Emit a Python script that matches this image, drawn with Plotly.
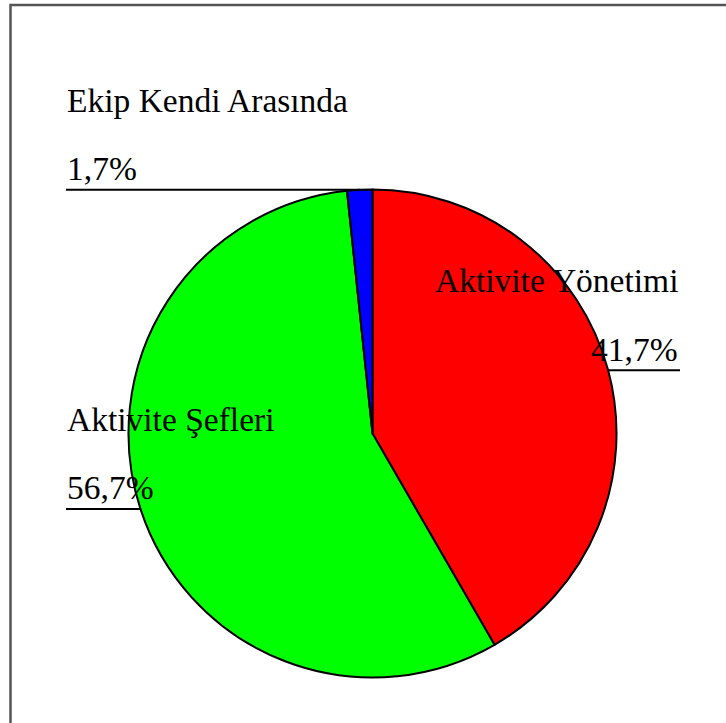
import math
import plotly.graph_objects as go

# Data
labels = ["Aktivite Yönetimi", "Aktivite Şefleri", "Ekip Kendi Arasında"]
counts = [25, 34, 1]
colors = ["#ff0000", "#00ff00", "#0000ff"]

W, H = 726, 723
FONT = "Liberation Serif, Times New Roman, serif"
FS = 33.5

# Pie geometry (pixels)
cx, cy, r = 372.5, 433.5, 244.0


def px(x):
    return x / W


def py(y):
    return 1 - y / H


total = sum(counts)
pcts = [c / total * 100 for c in counts]
pct_text = [f"{p:.1f}%".replace(".", ",") for p in pcts]

fig = go.Figure()
fig.add_trace(go.Pie(
    labels=labels,
    values=counts,
    sort=False,
    direction="clockwise",
    rotation=0,
    textinfo="none",
    hoverinfo="label+percent",
    marker=dict(colors=colors, line=dict(color="black", width=2)),
    domain=dict(x=[px(cx - r), px(cx + r)], y=[py(cy + r), py(cy - r)]),
    showlegend=False,
))

# label layout: side and x anchor position of the text block
label_side = ["right", "left", "left"]
left_x = 66
right_x = 679

shapes = []
annotations = []
cum = 0.0
for i, c in enumerate(counts):
    frac_mid = (cum + c / 2) / total
    cum += c
    ang = 2 * math.pi * frac_mid
    ex = cx + r * math.sin(ang)
    ey = cy - r * math.cos(ang)
    if label_side[i] == "left":
        x0, x1 = left_x, ex
        tx, anchor = left_x, "left"
    else:
        x0, x1 = ex, right_x + 1
        tx, anchor = right_x, "right"
    shapes.append(dict(type="line", xref="paper", yref="paper",
                       x0=px(x0), y0=py(ey), x1=px(x1), y1=py(ey),
                       line=dict(color="black", width=2), layer="above"))
    base_pct = ey - 10.5
    base_lbl = base_pct - 68.5
    for txt, base in ((pct_text[i], base_pct), (labels[i], base_lbl)):
        annotations.append(dict(
            text=txt, xref="paper", yref="paper",
            x=px(tx), y=py(base - 0.32 * FS),
            xanchor=anchor, yanchor="middle", showarrow=False,
            borderpad=0, font=dict(family=FONT, size=FS, color="black")))

# outer frame
shapes.append(dict(type="rect", xref="paper", yref="paper",
                   x0=px(10.5), y0=-0.05, x1=1.05, y1=py(5),
                   line=dict(color="#555555", width=2.5), layer="below"))

fig.update_layout(
    width=W, height=H,
    margin=dict(l=0, r=0, t=0, b=0),
    paper_bgcolor="white", plot_bgcolor="white",
    shapes=shapes, annotations=annotations,
)
fig.write_html("out.html", config={"displayModeBar": False},
               post_script="document.body.style.margin='0px';")
